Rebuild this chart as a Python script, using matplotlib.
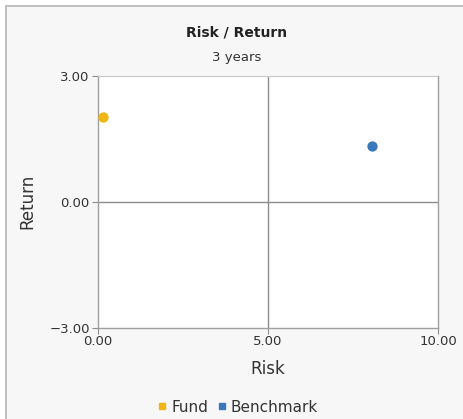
import matplotlib
matplotlib.use("Agg")
import matplotlib.pyplot as plt
from matplotlib.patches import Rectangle
from matplotlib.lines import Line2D

# data
names = ["Fund", "Benchmark"]
risk = [0.14, 8.07]
ret = [2.02, 1.33]
colors = ["#f2b614", "#3a78b9"]

xticks = [0, 5, 10]
xticklabels = ["0.00", "5.00", "10.00"]
yticks = [-3, 0, 3]
yticklabels = ["\u22123.00", "0.00", "3.00"]

W, H = 463, 419
fig = plt.figure(figsize=(W / 100, H / 100), dpi=100)
fig.patch.set_facecolor("white")

# panel background with grey border
fig.patches.append(Rectangle((6 / W, -0.1), 1.2, 1 - 6 / H + 0.1, transform=fig.transFigure,
                             facecolor="#f7f7f7", edgecolor="#b4b4b4", linewidth=1.2, zorder=-10))

ax = fig.add_axes([98 / W, 1 - 327.7 / H, 340 / W, 252 / H])
ax.set_facecolor("white")
ax.set_xlim(0, 10)
ax.set_ylim(-3, 3)

for s in ["left", "bottom", "right"]:
    ax.spines[s].set_color("#a0a0a0")
    ax.spines[s].set_linewidth(1)
ax.spines["top"].set_color("#c8c8c8")
ax.spines["top"].set_linestyle((0, (2, 1)))
ax.spines["top"].set_linewidth(0.8)

ax.axhline(0, color="#8c8c8c", linewidth=1, zorder=1)
ax.axvline(5, color="#8c8c8c", linewidth=1, zorder=1)

ax.set_xticks(xticks)
ax.set_xticklabels(xticklabels)
ax.set_yticks(yticks)
ax.set_yticklabels(yticklabels)
ax.tick_params(axis="both", length=4, width=0.8, color="#8c8c8c", labelsize=9.5,
               labelcolor="#333333", pad=2)
ax.tick_params(axis="x", pad=1)

for x, y, c in zip(risk, ret, colors):
    ax.scatter(x, y, s=55, color=c, zorder=3, clip_on=False, linewidths=0)

ax.set_xlabel("Risk", fontsize=12, color="#333333", labelpad=9)
ax.set_ylabel("Return", fontsize=12, color="#333333", labelpad=9)

fig.text(237 / W, 1 - 33 / H, "Risk / Return", ha="center", va="center",
         fontsize=10, fontweight="bold", color="#222222")
fig.text(237 / W, 1 - 57 / H, "3 years", ha="center", va="center",
         fontsize=9.5, color="#333333")

handles = [Line2D([], [], marker="s", linestyle="none", markersize=5, color=c) for c in colors]
fig.legend(handles, names, loc="center", bbox_to_anchor=(237 / W, 1 - 407 / H), ncol=2,
           frameon=False, fontsize=11, handletextpad=0.2, columnspacing=0.5,
           handlelength=0.8, labelcolor="#333333")

fig.savefig("out.png", dpi=100, facecolor=fig.get_facecolor())
